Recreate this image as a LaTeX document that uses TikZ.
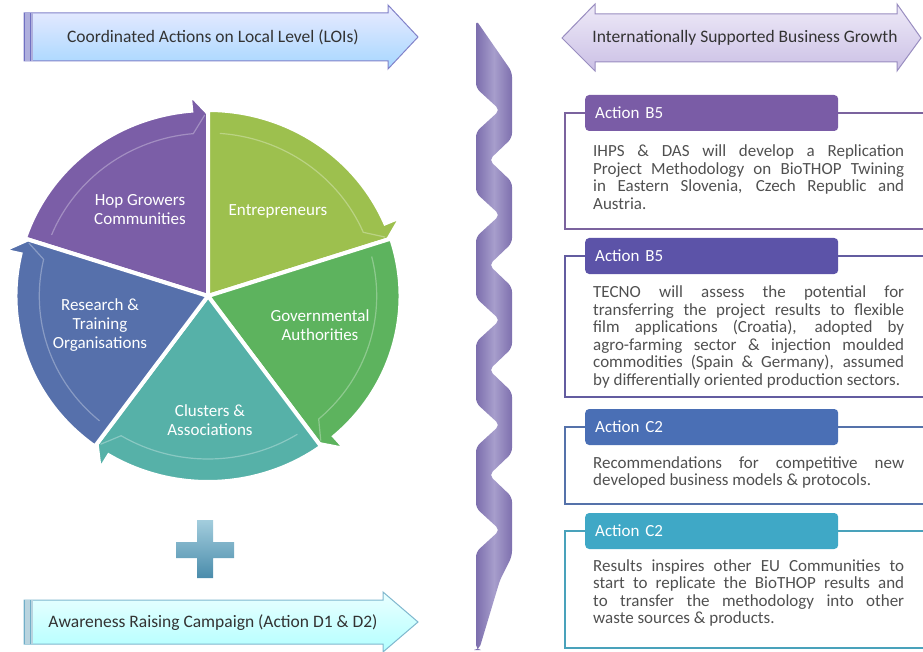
\documentclass[tikz,border=0pt]{standalone}
\usepackage{fontspec}
\setmainfont{Carlito}
\usetikzlibrary{positioning}
\definecolor{hopPurple}{HTML}{7B5EA7}
\definecolor{entGreen}{HTML}{9DC04E}
\definecolor{govGreen}{HTML}{5DB35E}
\definecolor{cluTeal}{HTML}{56B1A8}
\definecolor{resBlue}{HTML}{5670AB}
\definecolor{hdA}{HTML}{7A5CA6}
\definecolor{hdB}{HTML}{5C53A8}
\definecolor{hdC}{HTML}{4A6FB5}
\definecolor{hdD}{HTML}{3FA8C6}
\definecolor{txtGray}{HTML}{505050}
\definecolor{lavTop}{HTML}{EEEAF8}
\definecolor{lavBot}{HTML}{CBC0E5}
\definecolor{lavLine}{HTML}{998DC0}
\definecolor{bandA}{HTML}{7C6EAD}
\definecolor{bandB}{HTML}{A79ECC}
\definecolor{bandC}{HTML}{7E70AE}
\definecolor{plusTop}{HTML}{A3CDDD}
\definecolor{plusBot}{HTML}{4A8CAB}
\tikzset{
  arrowtext/.style={text=black!80, font=\fontsize{17.5}{19}\selectfont},
  pielabel/.style={text=white, align=center, font=\fontsize{17}{19}\selectfont},
  headbox/.style={rounded corners=4pt, text=white, anchor=west, text width=233pt,
    align=left, inner xsep=10pt, minimum height=36pt, font=\fontsize{17}{19}\selectfont},
  bodytext/.style={text=txtGray, anchor=base west, text width=311pt, align=justify,
    inner sep=0pt, font=\fontsize{17}{17.5}\selectfont},
  frameline/.style={line width=1.4pt}
}
\begin{document}
\begin{tikzpicture}[x=1pt,y=1pt]
\useasboundingbox (0,0) rectangle (923,-652);
% Pfeile oben und unten
\path[top color=blue!8, bottom color=blue!45!cyan!35, draw=blue!40!gray!70, line width=1pt]
  (24,-13) -- (388,-13) -- (388,-5) -- (418,-37) -- (388,-69) -- (388,-61) -- (24,-61) -- cycle;
\fill[blue!40!gray!45] (24,-13) rectangle (33,-61);
\draw[blue!40!gray!80, line width=1pt] (24,-13) -- (24,-61) (30,-13) -- (30,-61);
\node[arrowtext] (localLevel) at (213,-37) {Coordinated Actions on Local Level (LOIs)};
\path[top color=lavTop, bottom color=lavBot, draw=lavLine, line width=1pt]
  (562,-38) -- (595,-4) -- (595,-14) -- (897,-14) -- (897,-4) -- (921,-38)
  -- (897,-71) -- (897,-62) -- (595,-62) -- (595,-71) -- cycle;
\node[arrowtext] (businessGrowth) at (745,-38) {Internationally Supported Business Growth};
\path[top color=cyan!8, bottom color=cyan!30, draw=cyan!50!gray!80, line width=1pt]
  (24,-600) -- (383,-600) -- (383,-592) -- (418,-622) -- (383,-652) -- (383,-644) -- (24,-644) -- cycle;
\fill[cyan!40!gray!45] (24,-600) rectangle (33,-644);
\draw[cyan!50!gray!90, line width=1pt] (24,-600) -- (24,-644) (30,-600) -- (30,-644);
\node[arrowtext] (awareness) at (213,-623) {Awareness Raising Campaign (Action D1 \& D2)};
% Kreis
\begin{scope}[shift={(208,-296)}, xscale=1.035]
\foreach \ea/\col in {90/hopPurple, 18/entGreen, -54/govGreen, -126/cluTeal, 162/resBlue} {
  \pgfmathsetmacro\sa{\ea+72}
  \pgfmathsetmacro\ha{\ea+5}
  \fill[\col, draw=white, line width=4pt, line join=miter]
    (0,0) -- (\sa:186) arc[start angle=\sa, end angle=\ha, radius=186] -- (\ha:203) -- (\ea:183) -- cycle;
  \draw[white, opacity=0.3, line width=1.2pt]
    (\sa-4:163) arc[start angle=\sa-4, end angle=\ha, radius=163] -- (\ea+1:181);
}
\end{scope}
\node[pielabel] (hopGrowers) at (140,-210) {Hop Growers\\Communities};
\node[pielabel] (entrepreneurs) at (278,-211) {Entrepreneurs};
\node[pielabel] (government) at (320,-325) {Governmental\\Authorities};
\node[pielabel] (clusters) at (210,-420) {Clusters \&\\Associations};
\node[pielabel] (research) at (100,-325) {Research \&\\Training\\Organisations};
% Plus
\path[top color=plusTop, bottom color=plusBot, draw=none]
  (197,-520) -- (213,-520) -- (213,-542) -- (234,-542) -- (234,-558) -- (213,-558) -- (213,-578)
  -- (197,-578) -- (197,-558) -- (176,-558) -- (176,-542) -- (197,-542) -- cycle;
% Band
\path[left color=bandA, right color=bandC, middle color=bandB, rounded corners=5pt]
  (476,-20) -- (512,-72)
  -- (512,-138) -- (489,-160) -- (512,-182)
  -- (512,-243) -- (489,-265) -- (512,-287)
  -- (512,-348) -- (489,-370) -- (512,-392)
  -- (512,-453) -- (489,-475) -- (512,-497)
  -- (512,-556) -- (500,-580) -- (479,-650) -- (476,-650)
  -- (476,-552) -- (500,-530) -- (476,-508)
  -- (476,-447) -- (500,-425) -- (476,-403)
  -- (476,-342) -- (500,-320) -- (476,-298)
  -- (476,-237) -- (500,-215) -- (476,-193)
  -- (476,-132) -- (500,-110) -- (476,-88) -- cycle;
% Aktionen
\node[headbox, fill=hdA] (actA) at (585,-113) {Action B5};
\draw[frameline, hdA!80!gray] (actA.west) -- (565,-113) -- (565,-229) -- (923,-229);
\draw[frameline, hdA!80!gray] (actA.east) -- (923,-113);
\node[bodytext] (txtA) at (593,-157) {IHPS \& DAS will develop a Replication\linebreak
  Project Methodology on BioTHOP Twining\linebreak in Eastern Slovenia, Czech Republic and\linebreak Austria.};
\node[headbox, fill=hdB] (actB) at (585,-256) {Action B5};
\draw[frameline, hdB!80!gray] (actB.west) -- (565,-256) -- (565,-397) -- (923,-397);
\draw[frameline, hdB!80!gray] (actB.east) -- (923,-256);
\node[bodytext] (txtB) at (593,-298) {TECNO will assess the potential for\linebreak
  transferring the project results to flexible\linebreak film applications (Croatia), adopted by\linebreak
  agro-farming sector \& injection moulded\linebreak commodities (Spain \& Germany), assumed\linebreak
  by differentially oriented production sectors.};
\node[headbox, fill=hdC] (actC) at (585,-427) {Action C2};
\draw[frameline, hdC!80!gray] (actC.west) -- (565,-427) -- (565,-504) -- (923,-504);
\draw[frameline, hdC!80!gray] (actC.east) -- (923,-427);
\node[bodytext] (txtC) at (593,-468) {Recommendations for competitive new\linebreak
  developed business models \& protocols.};
\node[headbox, fill=hdD] (actD) at (585,-531) {Action C2};
\draw[frameline, hdD!85!gray] (actD.west) -- (565,-531) -- (565,-648) -- (923,-648);
\draw[frameline, hdD!85!gray] (actD.east) -- (923,-531);
\node[bodytext] (txtD) at (593,-571) {Results inspires other EU Communities to\linebreak
  start to replicate the BioTHOP results and\linebreak to transfer the methodology into other\linebreak
  waste sources \& products.};
\end{tikzpicture}
\end{document}
